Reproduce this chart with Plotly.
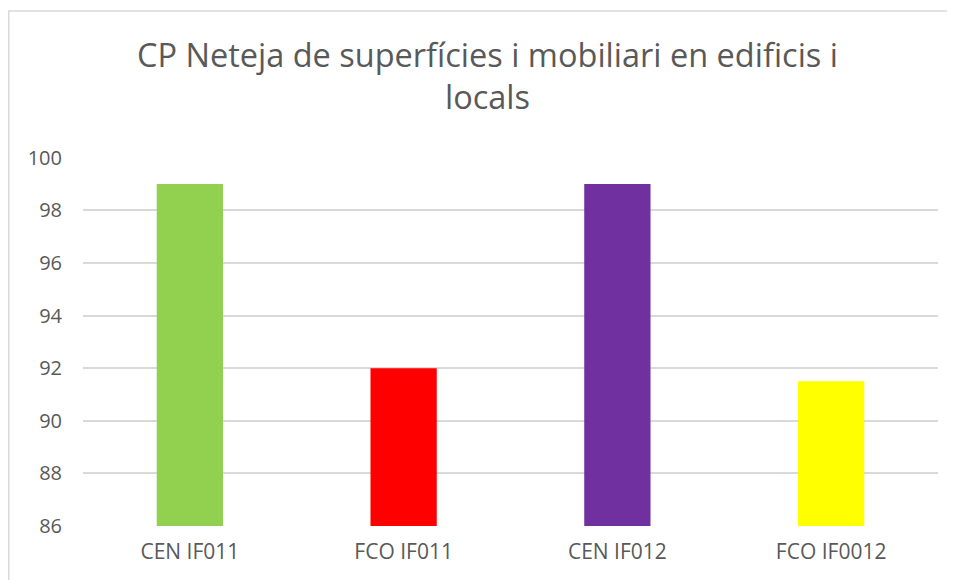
import plotly.graph_objects as go

categories = ["CEN IF011", "FCO IF011", "CEN IF012", "FCO IF0012"]
values = [99, 92, 99, 91.5]
colors = ["#92D050", "#FF0000", "#7030A0", "#FFFF00"]
tick_vals = [86, 88, 90, 92, 94, 96, 98, 100]

fig = go.Figure(go.Bar(x=categories, y=values, marker=dict(color=colors, line=dict(width=0)),
                       width=0.31))

# page body has an 8px margin, so the figure is slightly smaller than the window
W, H = 947, 572
L, R, T, B = 75, 17, 149, 54
pw, ph = W - L - R, H - T - B

fig.update_layout(
    width=W, height=H,
    margin=dict(l=L, r=R, t=T, b=B, pad=0),
    paper_bgcolor="white", plot_bgcolor="white",
    showlegend=False,
    title=dict(text="CP Neteja de superfícies i mobiliari en edificis i<br>locals",
               x=479.5 / W, xanchor="center", xref="container",
               y=1 - 59 / H, yanchor="top", yref="container",
               font=dict(family="Open Sans", size=32.5, color="#595959")),
    font=dict(family="Open Sans", color="#595959"),
    xaxis=dict(showgrid=False, showline=False, zeroline=False, ticks="",
               ticklabelstandoff=11,
               tickfont=dict(size=21, color="#595959")),
    yaxis=dict(range=[86, 100.03], tickvals=tick_vals, showgrid=True, gridcolor="#D9D9D9",
               gridwidth=1.5, zeroline=False, showline=False, ticks="",
               ticklabelstandoff=20,
               tickfont=dict(size=20, color="#595959")),
    shapes=[dict(type="rect", xref="paper", yref="paper",
                 x0=(0.75 - L) / pw, x1=(W + 10 - L) / pw,
                 y0=-(B + 10) / ph, y1=(H - B - 3) / ph,
                 line=dict(color="#D9D9D9", width=1.5), layer="below")],
)
fig.write_html("out.html")
